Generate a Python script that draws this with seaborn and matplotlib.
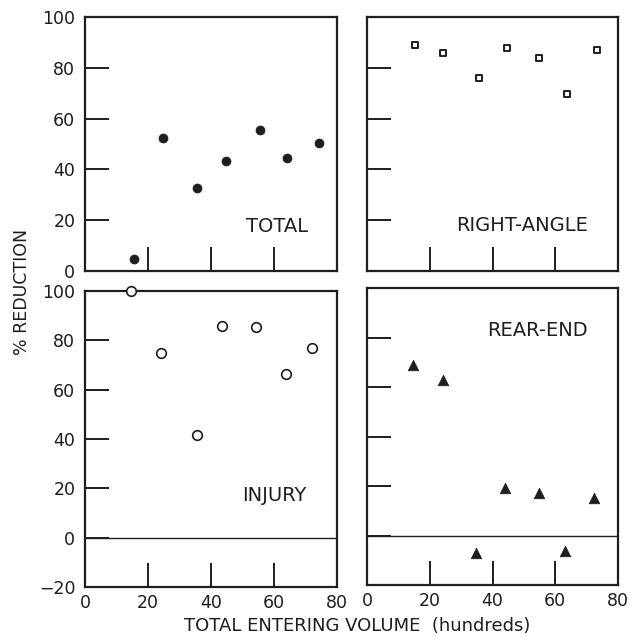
import matplotlib
matplotlib.use("Agg")
import matplotlib.pyplot as plt
import seaborn as sns
import pandas as pd

# ---- data ----
total_x = [15.7, 24.9, 35.6, 44.8, 55.6, 64.2, 74.2]
total_y = [4.9, 52.2, 32.8, 43.2, 55.5, 44.4, 50.5]

right_x = [15.2, 24.3, 35.8, 44.6, 54.9, 63.8, 73.2]
right_y = [89.0, 86.0, 75.8, 87.7, 84.0, 69.8, 87.0]

injury_x = [14.5, 24.2, 35.6, 43.5, 54.4, 63.9, 72.2]
injury_y = [100.0, 74.8, 41.6, 85.8, 85.6, 66.3, 76.7]

rear_x = [14.6, 24.1, 34.8, 44.1, 54.7, 63.1, 72.5]
rear_y = [68.7, 62.9, -7.0, 19.2, 17.3, -6.4, 15.1]

panel_titles = ["TOTAL", "RIGHT-ANGLE", "INJURY", "REAR-END"]
x_label = "TOTAL ENTERING VOLUME  (hundreds)"
y_label = "% REDUCTION"

sns.set_theme(style="white")
plt.rcParams["font.family"] = ["DejaVu Sans"]
ink = "#1e1e1e"
plt.rcParams["text.color"] = ink
plt.rcParams["axes.edgecolor"] = ink
plt.rcParams["xtick.color"] = ink
plt.rcParams["ytick.color"] = ink

fig = plt.figure(figsize=(6.39, 6.37), dpi=100)
W, H = 639, 637

def add_ax(l, t, r, b):
    return fig.add_axes([l / W, 1 - b / H, (r - l) / W, (b - t) / H])

ax_tl = add_ax(85, 17, 337, 271)
ax_tr = add_ax(367, 17, 618, 271)
ax_bl = add_ax(85, 291, 337, 587)
ax_br = add_ax(367, 288, 618, 585)

def scatter(ax, xs, ys, marker, face, size, lw):
    df = pd.DataFrame({"x": xs, "y": ys})
    sns.scatterplot(data=df, x="x", y="y", ax=ax, marker=marker, s=size,
                    color=face, edgecolor=ink, linewidth=lw, zorder=5, clip_on=False)

scatter(ax_tl, total_x, total_y, "o", ink, 42, 0.5)
scatter(ax_tr, right_x, right_y, "s", "white", 19, 1.4)
scatter(ax_bl, injury_x, injury_y, "o", "white", 48, 1.2)
scatter(ax_br, rear_x, rear_y, "^", ink, 58, 0.5)

for ax in (ax_tl, ax_tr, ax_bl, ax_br):
    ax.set_xlim(0, 80)
    ax.set_xlabel("")
    ax.set_ylabel("")
    for s in ax.spines.values():
        s.set_linewidth(1.6)
        s.set_color(ink)
    ax.tick_params(direction="in", length=17, width=1.4, pad=7, labelsize=12.5,
                   colors=ink, bottom=True, left=True, top=False, right=False)

for ax in (ax_tl, ax_tr):
    ax.set_ylim(0, 100)
    ax.set_yticks([0, 20, 40, 60, 80, 100])
    ax.set_xticks([20, 40, 60])
    ax.tick_params(axis="x", labelbottom=False)

for ax in (ax_bl, ax_br):
    ax.set_ylim(-20, 100)
    ax.set_yticks([-20, 0, 20, 40, 60, 80, 100])
    ax.set_xticks([0, 20, 40, 60, 80])
    ax.axhline(0, color=ink, lw=1.0, zorder=1)
    ax.set_yticklabels([])
    ax.set_xticklabels(["0", "20", "40", "60", "80"])
    ax.tick_params(axis="x", pad=5)

ax_bl.set_yticklabels(["\u221220", "0", "20", "40", "60", "80", "100"])
ax_tr.set_yticklabels([])
ax_br.set_yticklabels([])

title_kw = dict(fontsize=14, ha="center", va="center", color=ink)
ax_tl.text(61, 17.4, panel_titles[0], **title_kw)
ax_tr.text(49.3, 17.9, panel_titles[1], **title_kw)
ax_bl.text(60, 16.9, panel_titles[2], **title_kw)
ax_br.text(54.4, 83, panel_titles[3], **title_kw)

fig.text(357 / W, 1 - 626 / H, x_label, ha="center", va="center", fontsize=13, color=ink)
fig.text(22 / W, 1 - 292 / H, y_label, ha="center", va="center", rotation=90,
         fontsize=12.5, color=ink)

fig.savefig("out.png", dpi=100, facecolor="white")
